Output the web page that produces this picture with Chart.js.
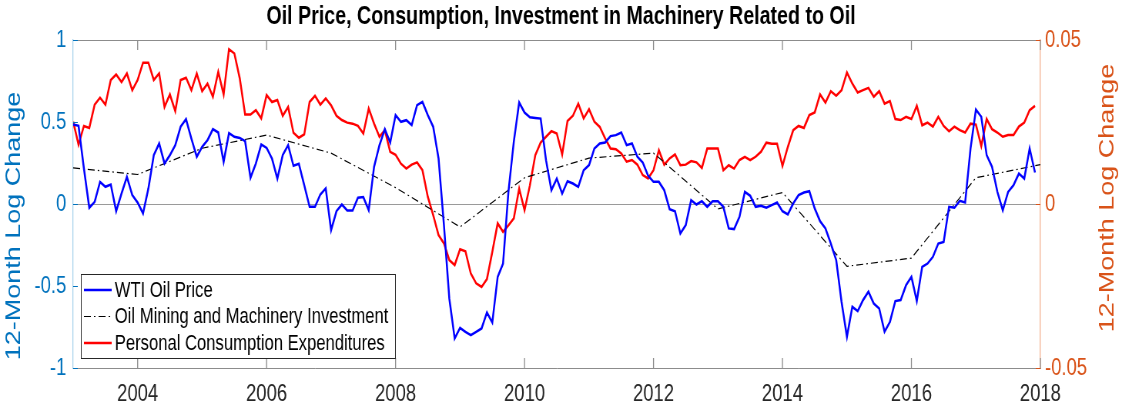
<!DOCTYPE html>
<html>
<head>
<meta charset="utf-8">
<script src="https://cdn.jsdelivr.net/npm/chart.js@4.4.1/dist/chart.umd.min.js"></script>
<style>
  html, body { margin: 0; background: #fff; }
  canvas { display: block; }
</style>
</head>
<body>
<!-- the figure was squeezed sideways, so draw wide and let CSS squeeze it the same way -->
<canvas id="chart" width="1457" height="408" style="width:1122px;height:408px"></canvas>
<script>
// monthly series start Jan 2003
const startYear = 2003;
const xTicks = [2004, 2006, 2008, 2010, 2012, 2014, 2016, 2018];
const leftTicks = [-1, -0.5, 0, 0.5, 1];
const rightTicks = [-0.05, 0, 0.05];

// WTI oil price, 12-month log change (left axis)
const wti = [
  0.485, 0.477, 0.216, -0.023, 0.013, 0.135, 0.105, 0.119, -0.044, 0.064, 0.166, 0.054,
  0.009, -0.058, 0.095, 0.298, 0.369, 0.247, 0.298, 0.359, 0.471, 0.517, 0.399, 0.288,
  0.349, 0.389, 0.456, 0.436, 0.257, 0.432, 0.410, 0.403, 0.383, 0.160, 0.247, 0.363,
  0.342, 0.277, 0.155, 0.298, 0.359, 0.233, 0.245, 0.115, -0.017, -0.017, 0.058, 0.095,
  -0.160, -0.044, -0.003, -0.040, -0.040, 0.038, 0.042, -0.038, 0.227, 0.359, 0.456, 0.375,
  0.542, 0.501, 0.511, 0.481, 0.603, 0.623, 0.542, 0.471, 0.277, -0.129, -0.576, -0.820,
  -0.755, -0.780, -0.800, -0.780, -0.759, -0.662, -0.723, -0.444, -0.363, 0.074, 0.379, 0.619,
  0.558, 0.529, 0.525, 0.521, 0.267, 0.084, 0.155, 0.064, 0.139, 0.125, 0.105, 0.206,
  0.237, 0.338, 0.369, 0.375, 0.414, 0.420, 0.436, 0.359, 0.369, 0.288, 0.253, 0.172,
  0.135, 0.135, 0.084, -0.032, -0.044, -0.180, -0.129, 0.023, -0.003, 0.017, -0.017, 0.017,
  0.017, -0.017, -0.149, -0.153, -0.078, 0.074, 0.050, -0.017, -0.011, -0.023, -0.007, 0.009,
  -0.044, -0.064, 0.003, 0.054, 0.070, 0.078, -0.027, -0.105, -0.149, -0.241, -0.342, -0.597,
  -0.810, -0.627, -0.653, -0.586, -0.535, -0.607, -0.637, -0.779, -0.719, -0.592, -0.586, -0.495,
  -0.444, -0.592, -0.383, -0.363, -0.322, -0.241, -0.231, -0.017, -0.023, 0.019, 0.009, 0.338,
  0.576, 0.532, 0.298, 0.227, 0.074, -0.038, 0.074, 0.115, 0.186, 0.155, 0.338, 0.192
];

// Personal consumption expenditures, 12-month log change (right axis)
const pce = [
  0.0251, 0.0181, 0.0238, 0.0232, 0.0303, 0.0324, 0.0303, 0.0378, 0.0395, 0.0372, 0.0398, 0.0347,
  0.0378, 0.0431, 0.0431, 0.0378, 0.0398, 0.0296, 0.0334, 0.0283, 0.0378, 0.0385, 0.0347, 0.0398,
  0.0344, 0.0367, 0.0327, 0.0403, 0.0334, 0.0472, 0.0459, 0.0383, 0.0273, 0.0273, 0.0286, 0.0261,
  0.0332, 0.0311, 0.0317, 0.0269, 0.0296, 0.0217, 0.0202, 0.0212, 0.0311, 0.0330, 0.0303, 0.0322,
  0.0301, 0.0269, 0.0256, 0.0248, 0.0245, 0.0238, 0.0215, 0.0291, 0.0245, 0.0205, 0.0225, 0.0159,
  0.0150, 0.0123, 0.0108, 0.0120, 0.0127, 0.0103, 0.0022, -0.0034, -0.0095, -0.0120, -0.0171, -0.0186,
  -0.0138, -0.0144, -0.0212, -0.0242, -0.0253, -0.0229, -0.0146, -0.0059, -0.0085, -0.0065, -0.0044, 0.0047,
  -0.0019, 0.0057, 0.0149, 0.0187, 0.0205, 0.0222, 0.0215, 0.0151, 0.0253, 0.0269, 0.0306, 0.0261,
  0.0289, 0.0251, 0.0235, 0.0200, 0.0169, 0.0167, 0.0154, 0.0129, 0.0134, 0.0120, 0.0088, 0.0078,
  0.0103, 0.0164, 0.0120, 0.0139, 0.0151, 0.0118, 0.0120, 0.0131, 0.0127, 0.0110, 0.0169, 0.0169,
  0.0169, 0.0103, 0.0118, 0.0108, 0.0134, 0.0144, 0.0134, 0.0144, 0.0159, 0.0187, 0.0184, 0.0184,
  0.0116, 0.0174, 0.0225, 0.0238, 0.0232, 0.0271, 0.0279, 0.0334, 0.0309, 0.0344, 0.0330, 0.0347,
  0.0401, 0.0367, 0.0340, 0.0347, 0.0354, 0.0327, 0.0344, 0.0306, 0.0314, 0.0259, 0.0256, 0.0266,
  0.0259, 0.0299, 0.0240, 0.0248, 0.0236, 0.0266, 0.0238, 0.0222, 0.0236, 0.0225, 0.0218, 0.0245,
  0.0242, 0.0177, 0.0259, 0.0228, 0.0218, 0.0205, 0.0210, 0.0210, 0.0236, 0.0248, 0.0286, 0.0299
];

// oil mining and machinery investment, annual (left axis)
const invYears = [2003, 2004, 2005, 2006, 2007, 2008, 2009, 2010, 2011, 2012, 2013, 2014, 2015, 2016, 2017, 2018];
const invValues = [0.22, 0.18, 0.34, 0.42, 0.31, 0.10, -0.14, 0.16, 0.28, 0.31, -0.03, 0.07, -0.38, -0.33, 0.16, 0.24];

const FONT = '"Liberation Sans", Arial, Helvetica, sans-serif';
const BLUE_AX = '#0072BD';
const ORANGE_AX = '#D95319';

const monthly = (arr) => arr.map((v, i) => ({ x: startYear + i / 12, y: v }));

// frame, inward ticks, axis titles and the boxed legend
const decorations = {
  id: 'decorations',
  afterDraw(chart) {
    const { ctx, chartArea: a, scales } = chart;
    ctx.save();
    // top frame line
    ctx.strokeStyle = '#8c8c8c';
    ctx.lineWidth = 1;
    ctx.beginPath();
    ctx.moveTo(a.left, a.top + 0.5);
    ctx.lineTo(a.right, a.top + 0.5);
    ctx.stroke();
    // x ticks, inside at top and bottom
    ctx.lineWidth = 1.3;
    xTicks.forEach(v => {
      const px = scales.x.getPixelForValue(v);
      ctx.beginPath();
      ctx.moveTo(px, a.top); ctx.lineTo(px, a.top + 10);
      ctx.moveTo(px, a.bottom); ctx.lineTo(px, a.bottom - 10);
      ctx.stroke();
    });
    // y ticks
    ctx.lineWidth = 1;
    ctx.strokeStyle = BLUE_AX;
    leftTicks.forEach(v => {
      const py = Math.round(scales.y.getPixelForValue(v)) + 0.5;
      ctx.beginPath(); ctx.moveTo(a.left, py); ctx.lineTo(a.left + 6, py); ctx.stroke();
    });
    ctx.strokeStyle = ORANGE_AX;
    rightTicks.forEach(v => {
      const py = Math.round(scales.y2.getPixelForValue(v)) + 0.5;
      ctx.beginPath(); ctx.moveTo(a.right, py); ctx.lineTo(a.right - 6, py); ctx.stroke();
    });

    // axis titles, both read bottom to top
    ctx.font = '27px ' + FONT;
    ctx.textAlign = 'center';
    ctx.textBaseline = 'middle';
    [[19, 226, BLUE_AX], [1439, 198, ORANGE_AX]].forEach(([x, y, col]) => {
      ctx.save();
      ctx.translate(x, y);
      ctx.rotate(-Math.PI / 2);
      ctx.fillStyle = col;
      ctx.fillText('12-Month Log Change', 0, 0);
      ctx.restore();
    });

    // legend box
    const lx = 105, ly = 274, lw = 408, lh = 84;
    ctx.fillStyle = '#fff';
    ctx.fillRect(lx, ly, lw, lh);
    ctx.strokeStyle = '#262626';
    ctx.lineWidth = 1;
    ctx.strokeRect(lx + 0.5, ly + 0.5, lw, lh);
    ctx.font = '21.6px ' + FONT;
    ctx.textAlign = 'left';
    ctx.textBaseline = 'middle';
    chart.data.datasets.forEach((ds, i) => {
      const y = ly + 16 + i * 26.5;
      ctx.strokeStyle = ds.borderColor;
      ctx.lineWidth = ds.borderWidth;
      ctx.setLineDash(ds.borderDash || []);
      ctx.beginPath();
      ctx.moveTo(109, y); ctx.lineTo(145, y);
      ctx.stroke();
      ctx.setLineDash([]);
      ctx.fillStyle = '#000';
      ctx.fillText(ds.label, 149, y + 1);
    });
    ctx.restore();
  }
};

new Chart(document.getElementById('chart'), {
  type: 'line',
  data: {
    datasets: [
      {
        label: 'WTI Oil Price',
        data: monthly(wti),
        borderColor: '#0000ff',
        borderWidth: 2.5,
        yAxisID: 'y'
      },
      {
        label: 'Oil Mining and Machinery Investment',
        data: invYears.map((yr, i) => ({ x: yr, y: invValues[i] })),
        borderColor: '#000000',
        borderWidth: 1.2,
        borderDash: [9, 4, 2, 4],
        yAxisID: 'y'
      },
      {
        label: 'Personal Consumption Expenditures',
        data: monthly(pce),
        borderColor: '#ff0000',
        borderWidth: 2.5,
        yAxisID: 'y2'
      }
    ]
  },
  options: {
    responsive: false,
    animation: false,
    devicePixelRatio: 1,
    layout: { padding: 0 },
    elements: {
      point: { radius: 0 },
      line: { tension: 0, fill: false }
    },
    plugins: {
      legend: { display: false },
      tooltip: { enabled: false },
      title: {
        display: true,
        text: 'Oil Price, Consumption, Investment in Machinery Related to Oil',
        color: '#000',
        font: { family: FONT, size: 25.5, weight: 'bold' },
        padding: { top: 2, bottom: 7.4 }
      }
    },
    scales: {
      x: {
        type: 'linear',
        min: 2003,
        max: 2018,
        afterBuildTicks: s => { s.ticks = xTicks.map(v => ({ value: v })); },
        afterFit: s => { s.height = 40; },
        ticks: {
          callback: v => String(v),
          color: '#262626',
          font: { family: FONT, size: 24 },
          padding: 4,
          maxRotation: 0,
          autoSkip: false
        },
        grid: { display: false },
        border: { display: true, color: '#8c8c8c' }
      },
      y: {
        position: 'left',
        min: -1,
        max: 1,
        afterBuildTicks: s => { s.ticks = leftTicks.map(v => ({ value: v })); },
        afterFit: s => { s.width = 95; },
        ticks: {
          callback: v => String(v),
          color: BLUE_AX,
          font: { family: FONT, size: 24 },
          padding: 9
        },
        grid: {
          drawTicks: false,
          color: c => (c.tick && c.tick.value === 0 ? '#9a9a9a' : 'rgba(0,0,0,0)')
        },
        border: { display: true, color: '#a9d2ec', width: 1.3 }
      },
      y2: {
        position: 'right',
        min: -0.05,
        max: 0.05,
        afterBuildTicks: s => { s.ticks = rightTicks.map(v => ({ value: v })); },
        afterFit: s => { s.width = 106; },
        ticks: {
          callback: v => String(v),
          color: ORANGE_AX,
          font: { family: FONT, size: 24 },
          padding: 6
        },
        grid: { display: false, drawTicks: false },
        border: { display: true, color: '#f3b08f', width: 1.3 }
      }
    }
  },
  plugins: [decorations]
});
</script>
</body>
</html>
